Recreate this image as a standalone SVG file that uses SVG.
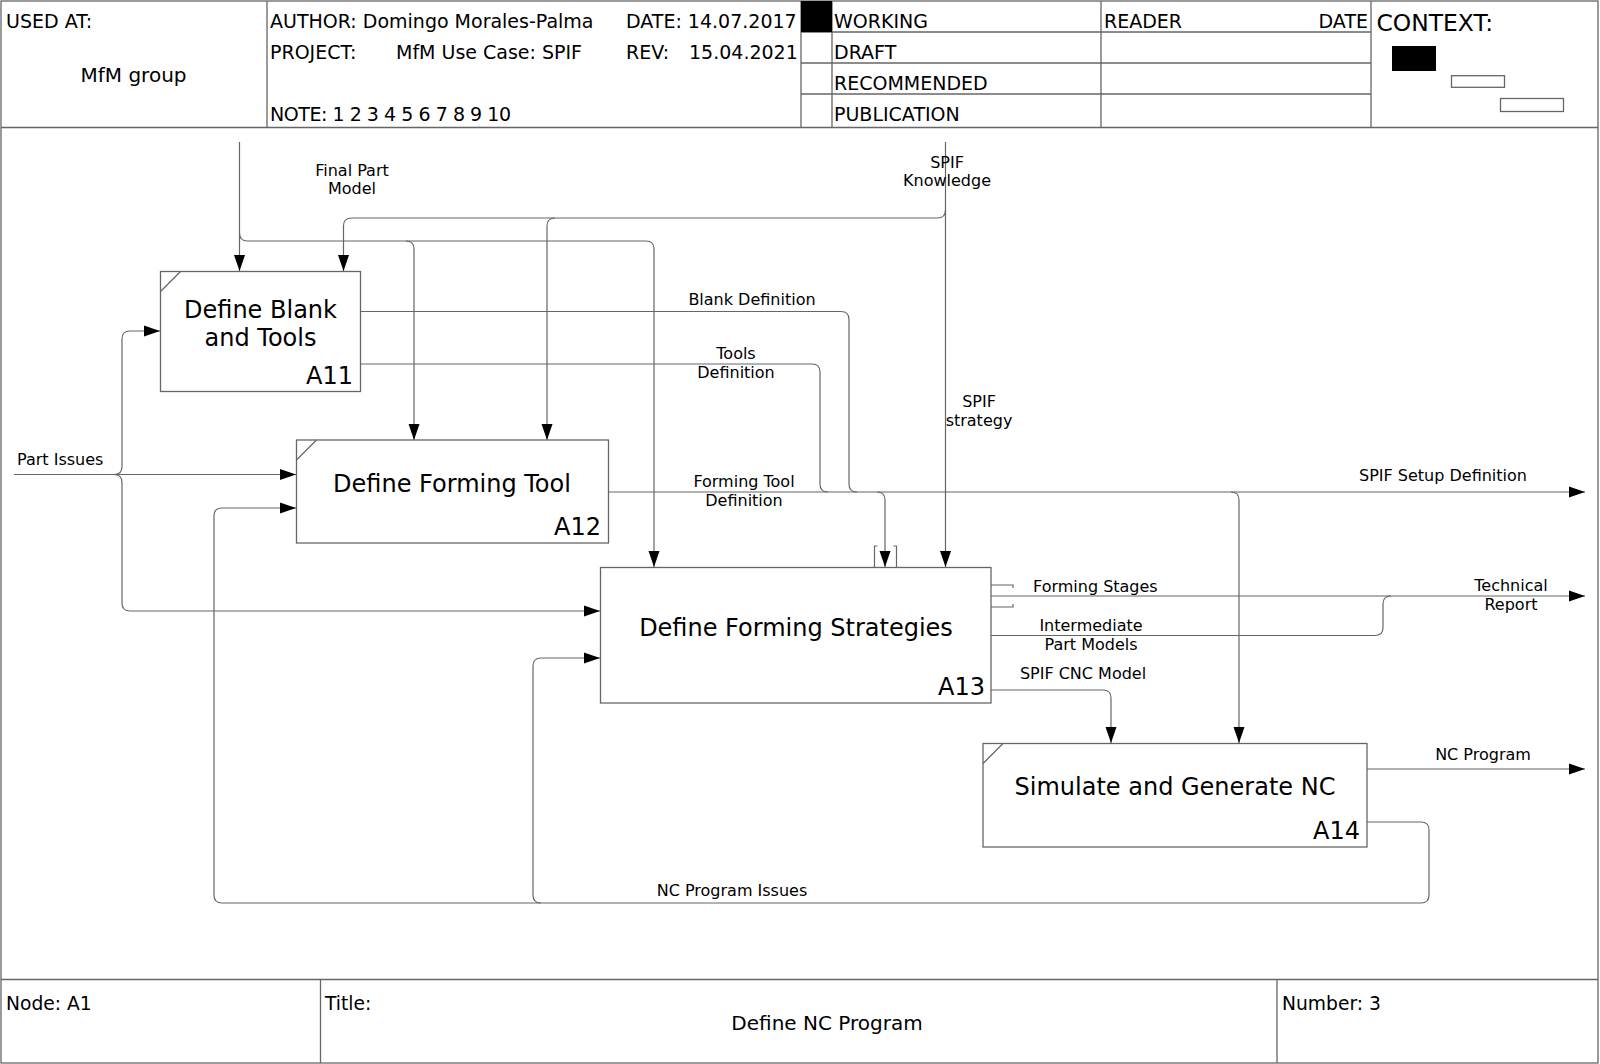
<svg xmlns="http://www.w3.org/2000/svg" width="1600" height="1064" viewBox="0 0 1600 1064">
<defs>
<marker id="arr" markerWidth="16" markerHeight="12" refX="16" refY="6" orient="auto" markerUnits="userSpaceOnUse">
<path d="M0,0.5 L16,6 L0,11.5 Z" fill="#000"/>
</marker>
<style>
text{font-family:"DejaVu Sans","Liberation Sans",sans-serif;fill:#000}
.hd{font-size:19px}
.ft{font-size:18.7px}
.ctx{font-size:23.4px}
.ttl{font-size:20px}
.bx{font-size:24px}
.lb{font-size:16px}
.frame{fill:none;stroke:#666;stroke-width:1.3}
.box{fill:#fff;stroke:#666;stroke-width:1.3}
.cn{fill:none;stroke:#666;stroke-width:1.2}
.arw{marker-end:url(#arr)}
</style>
</defs>
<rect x="0" y="0" width="1600" height="1064" fill="#fff"/>

<g id="header">
<rect class="frame" x="1" y="1" width="1597" height="1062"/>
<line class="frame" x1="1" y1="127.5" x2="1598" y2="127.5"/>
<line class="frame" x1="267" y1="1" x2="267" y2="127.5"/>
<line class="frame" x1="801" y1="1" x2="801" y2="127.5"/>
<line class="frame" x1="832" y1="1" x2="832" y2="127.5"/>
<line class="frame" x1="1101" y1="1" x2="1101" y2="127.5"/>
<line class="frame" x1="1371" y1="1" x2="1371" y2="127.5"/>
<line class="frame" x1="801" y1="32" x2="1371" y2="32"/>
<line class="frame" x1="801" y1="63" x2="1371" y2="63"/>
<line class="frame" x1="801" y1="94" x2="1371" y2="94"/>
<rect x="801" y="1" width="31" height="31" fill="#000"/>
<text class="hd" x="6" y="28">USED AT:</text>
<text class="ttl" x="133.5" y="82" text-anchor="middle">MfM group</text>
<text class="hd" x="270" y="28">AUTHOR: Domingo Morales-Palma</text>
<text class="hd" x="626" y="28">DATE: 14.07.2017</text>
<text class="hd" x="270" y="59">PROJECT:</text>
<text class="hd" x="396" y="59">MfM Use Case: SPIF</text>
<text class="hd" x="626" y="59">REV:</text>
<text class="hd" x="689" y="59">15.04.2021</text>
<text class="hd" x="270" y="121" textLength="241" lengthAdjust="spacing">NOTE: 1 2 3 4 5 6 7 8 9 10</text>
<text class="hd" x="834" y="28">WORKING</text>
<text class="hd" x="834" y="59">DRAFT</text>
<text class="hd" x="834" y="90">RECOMMENDED</text>
<text class="hd" x="834" y="121">PUBLICATION</text>
<text class="hd" x="1104" y="28">READER</text>
<text class="hd" x="1368" y="28" text-anchor="end">DATE</text>
<text class="ctx" x="1376.5" y="31">CONTEXT:</text>
<rect x="1392" y="46" width="44" height="25" fill="#000"/>
<rect class="frame" x="1451.5" y="75.7" width="53" height="11.6" stroke-width="1"/>
<rect class="frame" x="1500.5" y="98.5" width="63" height="13" stroke-width="1"/>
</g>

<g id="footer">
<line class="frame" x1="1" y1="979.5" x2="1598" y2="979.5"/>
<line class="frame" x1="320.5" y1="979.5" x2="320.5" y2="1063"/>
<line class="frame" x1="1277" y1="979.5" x2="1277" y2="1063"/>
<text class="ft" x="6" y="1010">Node: A1</text>
<text class="ft" x="325" y="1010">Title:</text>
<text class="ttl" x="827" y="1030" text-anchor="middle">Define NC Program</text>
<text class="ft" x="1282" y="1010">Number: 3</text>
</g>

<g id="connectors">
<!-- Final Part Model -->
<path class="cn arw" d="M239.5,142 L239.5,271"/>
<path class="cn arw" d="M239.5,233 Q239.5,241 247.5,241 L406,241 Q414,241 414,249 L414,440"/>
<path class="cn arw" d="M406,241 L646,241 Q654,241 654,249 L654,567"/>
<!-- SPIF Knowledge / strategy -->
<path class="cn arw" d="M945.5,142 L945.5,567"/>
<path class="cn arw" d="M945.5,210 Q945.5,218 937.5,218 L351.5,218 Q343.5,218 343.5,226 L343.5,271"/>
<path class="cn arw" d="M555,218 Q547,218 547,226 L547,440"/>
<!-- Blank Definition -->
<path class="cn" d="M360.5,311.5 L841,311.5 Q849,311.5 849,319.5 L849,484 Q849,492 857,492"/>
<!-- Tools Definition -->
<path class="cn" d="M360.5,364 L812,364 Q820,364 820,372 L820,484 Q820,492 828,492"/>
<!-- Forming Tool Definition / SPIF Setup Definition -->
<path class="cn arw" d="M608,492 L1585,492"/>
<path class="cn arw" d="M877,492 Q885,492 885,500 L885,567"/>
<path class="cn arw" d="M1231,492 Q1239,492 1239,500 L1239,743"/>
<path class="cn" d="M877.5,546 L874.5,546 L874.5,567 M893.5,546 L896.5,546 L896.5,567"/>
<!-- Part Issues -->
<path class="cn arw" d="M14,474.5 L296,474.5"/>
<path class="cn arw" d="M114,474.5 Q122,474.5 122,466.5 L122,339 Q122,331 130,331 L160,331"/>
<path class="cn arw" d="M114,474.5 Q122,474.5 122,482.5 L122,603 Q122,611 130,611 L600,611"/>
<!-- A13 outputs -->
<path class="cn arw" d="M991,596 L1585,596"/>
<path class="cn" d="M991,585 L1013,585 L1013,588 M991,607 L1013,607 L1013,604"/>
<path class="cn" d="M991,635.5 L1375,635.5 Q1383,635.5 1383,627.5 L1383,604 Q1383,596 1391,596"/>
<path class="cn arw" d="M991,690 L1103,690 Q1111,690 1111,698 L1111,743"/>
<!-- A14 outputs -->
<path class="cn arw" d="M1367,769 L1585,769"/>
<path class="cn arw" d="M1367,822 L1421,822 Q1429,822 1429,830 L1429,895 Q1429,903 1421,903 L222,903 Q214,903 214,895 L214,516 Q214,508 222,508 L296,508"/>
<path class="cn arw" d="M541,903 Q533,903 533,895 L533,666 Q533,658 541,658 L600,658"/>
<!-- labels -->
<text class="lb" x="352" y="176" text-anchor="middle">Final Part</text>
<text class="lb" x="352" y="194" text-anchor="middle">Model</text>
<text class="lb" x="947" y="168" text-anchor="middle">SPIF</text>
<text class="lb" x="947" y="186" text-anchor="middle">Knowledge</text>
<text class="lb" x="752" y="305" text-anchor="middle">Blank Definition</text>
<text class="lb" x="736" y="359" text-anchor="middle">Tools</text>
<text class="lb" x="736" y="378" text-anchor="middle">Definition</text>
<text class="lb" x="979" y="407" text-anchor="middle">SPIF</text>
<text class="lb" x="979" y="426" text-anchor="middle">strategy</text>
<text class="lb" x="744" y="487" text-anchor="middle">Forming Tool</text>
<text class="lb" x="744" y="506" text-anchor="middle">Definition</text>
<text class="lb" x="1443" y="481" text-anchor="middle">SPIF Setup Definition</text>
<text class="lb" x="17" y="465">Part Issues</text>
<text class="lb" x="1033" y="592">Forming Stages</text>
<text class="lb" x="1091" y="631" text-anchor="middle">Intermediate</text>
<text class="lb" x="1091" y="650" text-anchor="middle">Part Models</text>
<text class="lb" x="1083" y="679" text-anchor="middle">SPIF CNC Model</text>
<text class="lb" x="1511" y="591" text-anchor="middle">Technical</text>
<text class="lb" x="1511" y="610" text-anchor="middle">Report</text>
<text class="lb" x="1483" y="760" text-anchor="middle">NC Program</text>
<text class="lb" x="732" y="896" text-anchor="middle">NC Program Issues</text>
</g>

<g id="A11">
<rect class="box" x="160.5" y="271.5" width="200" height="120"/>
<line class="cn" x1="160.5" y1="291.5" x2="180.5" y2="271.5"/>
<text class="bx" x="260.5" y="318" text-anchor="middle">Define Blank</text>
<text class="bx" x="260.5" y="346" text-anchor="middle">and Tools</text>
<text class="bx" x="353" y="384" text-anchor="end">A11</text>
</g>

<g id="A12">
<rect class="box" x="296.5" y="440" width="312" height="103"/>
<line class="cn" x1="296.5" y1="460" x2="316.5" y2="440"/>
<text class="bx" x="452" y="492" text-anchor="middle">Define Forming Tool</text>
<text class="bx" x="601" y="535" text-anchor="end">A12</text>
</g>

<g id="A13">
<rect class="box" x="600.5" y="567.5" width="390.5" height="135.5"/>
<text class="bx" x="796" y="636" text-anchor="middle">Define Forming Strategies</text>
<text class="bx" x="985" y="695" text-anchor="end">A13</text>
</g>

<g id="A14">
<rect class="box" x="983" y="743.5" width="384" height="103.5"/>
<line class="cn" x1="983" y1="763.5" x2="1003" y2="743.5"/>
<text class="bx" x="1175" y="795" text-anchor="middle">Simulate and Generate NC</text>
<text class="bx" x="1360" y="839" text-anchor="end">A14</text>
</g>
</svg>
